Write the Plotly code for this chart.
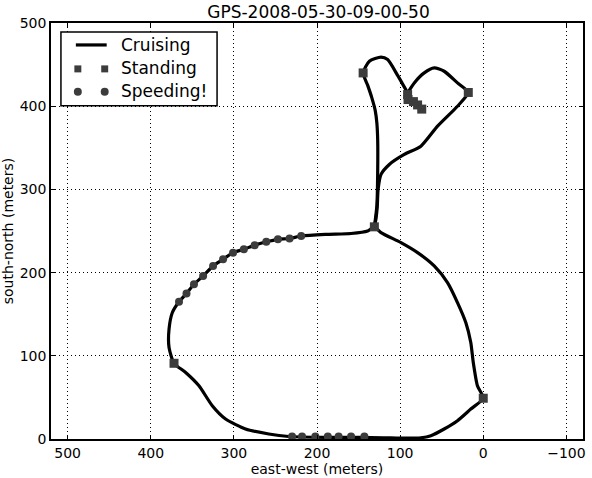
import plotly.graph_objects as go

# Cruising path segments (east-west meters, south-north meters)
loop_x = [131, 123, 99, 79, 59, 43, 31, 21, 15, 12, 7, 0,
          15, 31, 47, 63, 75, 90, 120, 150, 190, 234, 258, 286, 310, 326, 342, 358, 372,
          378, 378, 374, 366, 357, 348, 337, 325, 313, 301, 288, 275, 261, 247, 233, 219,
          190, 159, 139, 131]
loop_y = [255, 248, 236, 224, 208, 188, 164, 140, 116, 92, 64, 49,
          36, 22, 12, 4, 1.5, 1, 1.5, 2, 2, 3, 6, 12, 24, 40, 64, 80, 91,
          110, 132, 152, 165, 175, 186, 196, 208, 216, 224, 228, 233, 237, 240, 241, 244,
          246, 247, 250, 255]

stem_x = [131, 128, 127, 127, 128, 130, 134, 139, 144.5, 137, 123, 115, 103, 91]
stem_y = [255, 280, 320, 360, 380, 395, 410, 425, 440, 454, 459, 456, 437, 416]

lobe_x = [91, 83, 71, 59, 47, 31, 18, 31, 55, 75, 95, 113, 123, 126.5, 127.5, 129, 131]
lobe_y = [416, 428, 440, 446, 442, 428, 416.5, 400, 376, 352, 342, 330, 318, 300, 280, 265, 255]

# Standing points
stand_x = [0, 372, 131, 144.5, 91, 90.5, 84, 79, 74, 18]
stand_y = [49, 91, 255, 440, 414, 408, 405.5, 401.5, 396.5, 416.5]

# Speeding points
speed_x = [366, 357, 348, 337, 325, 313, 301, 288, 275, 261, 247, 233, 219,
           230, 218, 202, 187, 174, 159, 143]
speed_y = [165, 175, 186, 196, 208, 216, 224, 228, 233, 237, 240, 241, 244,
           3, 3, 3, 3, 3, 3, 3]

x_ticks = [500, 400, 300, 200, 100, 0, -100]
y_ticks = [0, 100, 200, 300, 400, 500]

FONT = "DejaVu Sans"
MARK = "#3c3c3c"

fig = go.Figure()
for xs, ys in [(loop_x, loop_y), (stem_x, stem_y), (lobe_x, lobe_y)]:
    fig.add_trace(go.Scatter(x=xs, y=ys, mode="lines",
                             line=dict(color="black", width=3.2, shape="spline", smoothing=0.6),
                             showlegend=False, hoverinfo="skip"))
fig.add_trace(go.Scatter(x=stand_x, y=stand_y, mode="markers",
                         marker=dict(symbol="square", size=9, color=MARK),
                         showlegend=False))
fig.add_trace(go.Scatter(x=speed_x, y=speed_y, mode="markers",
                         marker=dict(symbol="circle", size=8, color=MARK),
                         showlegend=False))

axis_common = dict(showline=True, linecolor="black", linewidth=1.5, mirror="ticks",
                   ticks="inside", ticklen=4, tickcolor="black",
                   showgrid=True, gridcolor="black", gridwidth=1, griddash="1px,3px",
                   zeroline=False, tickfont=dict(family=FONT, size=14, color="black"))

fig.update_xaxes(range=[520, -120], tickvals=x_ticks,
                 title=dict(text="east-west (meters)", font=dict(family=FONT, size=14, color="black"), standoff=2),
                 **axis_common)
fig.update_yaxes(range=[0, 500], tickvals=y_ticks,
                 title=dict(text="south-north (meters)", font=dict(family=FONT, size=14, color="black"), standoff=4),
                 **axis_common)

# Legend drawn manually (matplotlib style with two markers)
W, H = 592, 478
L, R, T, B = 51, 6, 23, 38
pw, ph = W - L - R, H - T - B
def px(x):
    return (x - L) / pw
def py(y):
    return 1 - (y - T) / ph

shapes = [dict(type="rect", xref="paper", yref="paper", x0=px(61), x1=px(218), y0=py(106), y1=py(32),
               line=dict(color="black", width=1.5), fillcolor="white", layer="above"),
          dict(type="line", xref="paper", yref="paper", x0=px(76), x1=px(107), y0=py(45), y1=py(45),
               line=dict(color="black", width=3.2), layer="above")]
for cx in (78, 105):
    shapes.append(dict(type="rect", xref="paper", yref="paper", x0=px(cx - 3.5), x1=px(cx + 3.5),
                       y0=py(69 + 3.5), y1=py(69 - 3.5), line=dict(width=0), fillcolor=MARK, layer="above"))
    shapes.append(dict(type="circle", xref="paper", yref="paper", x0=px(cx - 4), x1=px(cx + 4),
                       y0=py(92 + 4), y1=py(92 - 4), line=dict(width=0), fillcolor=MARK, layer="above"))

annotations = []
for label, yy in [("Cruising", 45), ("Standing", 68), ("Speeding!", 91)]:
    annotations.append(dict(xref="paper", yref="paper", x=px(119), y=py(yy), text=label,
                            showarrow=False, xanchor="left", yanchor="middle",
                            font=dict(family=FONT, size=17, color="black")))

fig.update_layout(width=W, height=H, margin=dict(l=L, r=R, t=T, b=B),
                  paper_bgcolor="white", plot_bgcolor="white",
                  title=dict(text="GPS-2008-05-30-09-00-50", x=(L + pw / 2) / W, xanchor="center",
                             y=1 - 12 / H, yanchor="middle",
                             font=dict(family=FONT, size=17, color="black")),
                  shapes=shapes, annotations=annotations, showlegend=False)

fig.write_html("out.html")
